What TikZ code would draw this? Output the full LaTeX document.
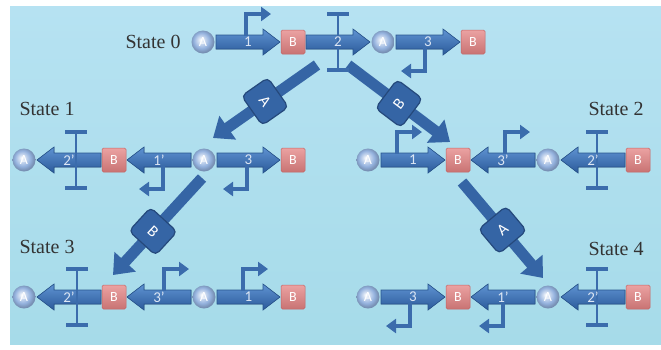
\documentclass[tikz,border=0pt]{standalone}
\usepackage{fontspec}
\setmainfont{Liberation Serif}
\newfontfamily\labfont{Carlito}
\usetikzlibrary{arrows.meta,calc}
\definecolor{bgtop}{HTML}{B6E2F2}
\definecolor{bgbot}{HTML}{A6DBE9}
\definecolor{genetop}{HTML}{5F93D2}
\definecolor{genebot}{HTML}{2B5A9A}
\definecolor{geneedge}{HTML}{28558F}
\definecolor{elem}{HTML}{3B6CAC}
\definecolor{bfill}{HTML}{E48383}
\definecolor{bedge}{HTML}{C46464}
\definecolor{aball}{HTML}{94B2DE}
\definecolor{bigarrow}{HTML}{3565A5}
\definecolor{bigedge}{HTML}{25497C}
\definecolor{genelabc}{HTML}{DCE6F4}
\pgfdeclareradialshading{sphereA}{\pgfpoint{-5bp}{5bp}}{%
  color(0bp)=(white); color(6bp)=(aball!40!white); color(17bp)=(aball);
  color(25bp)=(aball!80!black); color(50bp)=(aball!80!black)}
\tikzset{
  nodeA/.style={circle, minimum size=23pt, inner sep=0pt, shading=sphereA,
    text=white, font=\labfont\fontsize{14}{14}\selectfont},
  nodeB/.style={rectangle, minimum size=24pt, inner sep=0pt,
    top color=bfill!75!white, bottom color=bfill!88!black, draw=bedge,
    line width=0.5pt, rounded corners=1.5pt, text=white,
    font=\labfont\fontsize{14}{14}\selectfont},
  genestyle/.style={top color=genetop, bottom color=genebot, draw=geneedge, line width=0.6pt},
  genelab/.style={text=genelabc, inner sep=0pt, font=\labfont\fontsize{15}{15}\selectfont},
  elemline/.style={draw=elem, line width=3.4pt},
  elemarrow/.style={draw=elem, line width=3.4pt, -{Triangle[width=14pt,length=10pt]}},
  statelab/.style={text=black!80, inner sep=0pt, font=\fontsize{20}{20}\selectfont},
  bigarr/.style={draw=bigarrow, line width=11pt, -{Triangle[width=28pt,length=18pt]}},
  bigbox/.style={rectangle, rounded corners=5pt, minimum width=36pt, minimum height=32pt,
    fill=bigarrow, draw=bigedge, line width=1.2pt, text=white, inner sep=0pt,
    font=\labfont\fontsize{16}{16}\selectfont},
}
% gene arrow body: tail x, tip x, row y (down positive)
\newcommand{\genebody}[3]{%
  \pgfmathsetmacro{\gd}{(#2-#1)/abs(#2-#1)}%
  \pgfmathsetmacro{\gh}{#2-\gd*17}%
  \filldraw[genestyle] (#1,{-#3+7}) -- (\gh,{-#3+7}) -- (\gh,{-#3+13}) -- (#2,{-#3})
    -- (\gh,{-#3-13}) -- (\gh,{-#3-7}) -- (#1,{-#3-7}) -- cycle;}
% gene label: tail, tip, y, name, text
\newcommand{\genelabel}[5]{\node[genelab] (#4) at ({(#1+#2)/2},{-#3}) {#5};}
% forward promoter (above, pointing right): x, y
\newcommand{\promfwd}[2]{\draw[elemarrow] (#1,{-#2+6}) -- (#1,{-#2+28}) -- ({#1+25},{-#2+28});}
% reverse promoter (below, pointing left): x, y
\newcommand{\promrev}[2]{\draw[elemarrow] (#1,{-#2-6}) -- (#1,{-#2-29}) -- ({#1-24},{-#2-29});}
% terminator: x, y
\newcommand{\term}[2]{%
  \draw[draw=elem, line width=2.6pt] (#1,{-#2+28}) -- (#1,{-#2-28});
  \draw[elemline] ({#1-11},{-#2+28}) -- ({#1+11},{-#2+28});
  \draw[elemline] ({#1-11},{-#2-28}) -- ({#1+11},{-#2-28});}
\begin{document}
\begin{tikzpicture}[x=1pt,y=1pt]
\useasboundingbox (0,0) rectangle (661,-349);
\fill[white] (0,0) rectangle (661,-349);
\shade[top color=bgtop, bottom color=bgbot] (10,-6) rectangle (661,-344);

% ---------- State labels
\node[statelab] (s0) at (153,-42) {State 0};
\node[statelab] (s1) at (47,-109) {State 1};
\node[statelab] (s2) at (616,-109) {State 2};
\node[statelab] (s3) at (47,-247) {State 3};
\node[statelab] (s4) at (616,-249) {State 4};

% ---------- big transition arrows
\coordinate (c1s) at (317,-65);  \coordinate (c1t) at (213,-138);
\coordinate (c2s) at (348,-65);  \coordinate (c2t) at (450,-142);
\coordinate (c3s) at (202,-178); \coordinate (c3t) at (113,-275);
\coordinate (c4s) at (462,-182); \coordinate (c4t) at (543,-278);
\draw[bigarr] (c1s) -- (c1t);
\draw[bigarr] (c2s) -- (c2t);
\draw[bigarr] (c3s) -- (c3t);
\draw[bigarr] (c4s) -- (c4t);
\node[bigbox, rotate=-55] (k1) at ($(c1s)!0.5!(c1t)$) {A};
\node[bigbox, rotate=53] (k2) at ($(c2s)!0.5!(c2t)$) {B};
\node[bigbox, rotate=-42.5] (k3) at ($(c3s)!0.55!(c3t)$) {B};
\node[bigbox, rotate=40] (k4) at ($(c4s)!0.5!(c4t)$) {A};

% ---------- gene bodies
% row 0
\genebody{216}{280}{42}
\genebody{306}{370}{42}
\genebody{396}{460}{42}
% row 1 left
\genebody{101}{37}{160}
\genebody{191}{127}{160}
\genebody{217}{280}{160}
% row 1 right
\genebody{381}{445}{160}
\genebody{535}{471}{160}
\genebody{625}{561}{160}
% row 3
\genebody{101}{37}{297}
\genebody{191}{127}{297}
\genebody{217}{280}{297}
% row 4
\genebody{381}{445}{297}
\genebody{535}{471}{297}
\genebody{625}{561}{297}

% ---------- regulatory elements
\promfwd{246}{42}
\term{338}{42}
\promrev{425}{42}

\term{76}{160}
\promrev{163}{160}
\promrev{247}{160}

\promfwd{397}{160}
\promfwd{505}{160}
\term{597}{160}

\term{77}{297}
\promfwd{164}{297}
\promfwd{243}{297}

\promrev{410}{297}
\promrev{503}{297}
\term{597}{297}

% ---------- gene labels
\genelabel{216}{280}{42}{g01}{1}
\genelabel{306}{370}{42}{g02}{2}
\genelabel{396}{460}{42}{g03}{3}
\genelabel{101}{37}{160}{g11}{2’}
\genelabel{191}{127}{160}{g12}{1’}
\genelabel{217}{280}{160}{g13}{3}
\genelabel{381}{445}{160}{g21}{1}
\genelabel{535}{471}{160}{g22}{3’}
\genelabel{625}{561}{160}{g23}{2’}
\genelabel{101}{37}{297}{g31}{2’}
\genelabel{191}{127}{297}{g32}{3’}
\genelabel{217}{280}{297}{g33}{1}
\genelabel{381}{445}{297}{g41}{3}
\genelabel{535}{471}{297}{g42}{1’}
\genelabel{625}{561}{297}{g43}{2’}

% ---------- A and B nodes
\node[nodeA] (a01) at (203,-42) {A};
\node[nodeB] (b01) at (293,-42) {B};
\node[nodeA] (a02) at (383,-42) {A};
\node[nodeB] (b02) at (473,-42) {B};

\node[nodeA] (a11) at (24,-160) {A};
\node[nodeB] (b11) at (114,-160) {B};
\node[nodeA] (a12) at (204,-160) {A};
\node[nodeB] (b12) at (293,-160) {B};

\node[nodeA] (a21) at (368,-160) {A};
\node[nodeB] (b21) at (458,-160) {B};
\node[nodeA] (a22) at (548,-160) {A};
\node[nodeB] (b22) at (638,-160) {B};

\node[nodeA] (a31) at (24,-297) {A};
\node[nodeB] (b31) at (114,-297) {B};
\node[nodeA] (a32) at (204,-297) {A};
\node[nodeB] (b32) at (293,-297) {B};

\node[nodeA] (a41) at (368,-297) {A};
\node[nodeB] (b41) at (458,-297) {B};
\node[nodeA] (a42) at (548,-297) {A};
\node[nodeB] (b42) at (638,-297) {B};
\end{tikzpicture}
\end{document}
